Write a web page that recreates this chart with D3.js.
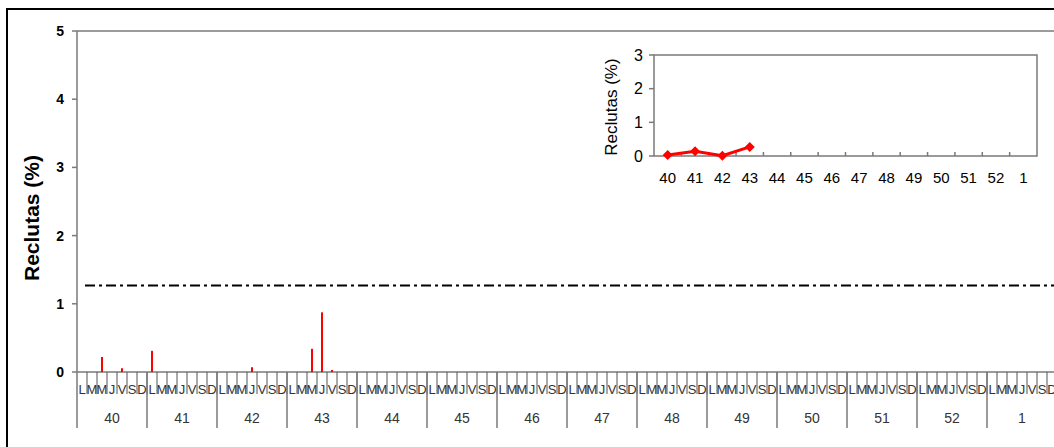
<!DOCTYPE html>
<html>
<head>
<meta charset="utf-8">
<script src="https://cdn.jsdelivr.net/npm/d3@7"></script>
<style>
  body { margin: 0; background: #fff; }
  text { font-family: "Liberation Sans", Arial, sans-serif; }
</style>
</head>
<body>
<div class="chart"></div>
<script>
const WIDTH = 1054, HEIGHT = 447;

// data
const weeks = ["40", "41", "42", "43", "44", "45", "46", "47", "48", "49", "50", "51", "52", "1"];
const dayLetters = ["L", "M", "M", "J", "V", "S", "D"];
const week40 = [0, 0, 0.22, 0, 0.055, 0, 0];
const week41 = [0.31, 0, 0, 0, 0, 0, 0];
const week42 = [0, 0, 0, 0.07, 0, 0, 0];
const week43 = [0, 0, 0.34, 0.875, 0.03, 0, 0];
const weeklyMean = [0.03, 0.14, 0.01, 0.27];
const threshold = 1.27;
const yTicks = [0, 1, 2, 3, 4, 5];
const insetTicks = [0, 1, 2, 3];

const dailyValues = [week40, week41, week42, week43];
const days = [];
weeks.forEach(function(w, wi) {
  dayLetters.forEach(function(d, di) {
    const vals = dailyValues[wi];
    days.push({ key: w + "-" + di, letter: d, week: w, value: vals ? vals[di] : null });
  });
});

const svg = d3.select(".chart").append("svg")
  .attr("width", WIDTH)
  .attr("height", HEIGHT);

// outer frame
svg.append("rect")
  .attr("x", 7).attr("y", 9)
  .attr("width", WIDTH + 10).attr("height", HEIGHT + 10)
  .attr("fill", "none").attr("stroke", "#000").attr("stroke-width", 2);

const grey = "#7a7a7a";
const x = d3.scaleBand().domain(days.map(d => d.key)).range([77, 1057]);
const xw = d3.scaleBand().domain(weeks).range([77, 1057]);
const y = d3.scaleLinear().domain([0, 5]).range([372, 31]);

// plot top border
svg.append("line")
  .attr("x1", 77).attr("x2", WIDTH).attr("y1", y(5)).attr("y2", y(5))
  .attr("stroke", grey).attr("stroke-width", 1.5);

// y axis
const yAxis = svg.append("g");
yAxis.append("line")
  .attr("x1", 77).attr("x2", 77).attr("y1", y(5)).attr("y2", 428)
  .attr("stroke", grey).attr("stroke-width", 1.5);
yAxis.selectAll(".yt").data(yTicks).enter().append("line")
  .attr("x1", 72).attr("x2", 77).attr("y1", d => y(d)).attr("y2", d => y(d))
  .attr("stroke", grey).attr("stroke-width", 1.5);
yAxis.selectAll(".yl").data(yTicks).enter().append("text")
  .attr("x", 64).attr("y", d => y(d) + 5)
  .attr("text-anchor", "end")
  .attr("font-size", 14).attr("font-weight", "bold")
  .text(d => d);
svg.append("text")
  .attr("transform", "translate(39,218) rotate(-90)")
  .attr("text-anchor", "middle")
  .attr("font-size", 21).attr("font-weight", "bold")
  .text("Reclutas (%)");

// x axis line
svg.append("line")
  .attr("x1", 77).attr("x2", WIDTH).attr("y1", y(0)).attr("y2", y(0))
  .attr("stroke", grey).attr("stroke-width", 1.5);

// day letters and ticks
svg.selectAll(".dl").data(days).enter().append("text")
  .attr("x", d => x(d.key) + x.bandwidth() / 2)
  .attr("y", y(0) + 22)
  .attr("text-anchor", "middle")
  .attr("font-size", 13).attr("fill", "#333")
  .text(d => d.letter);
svg.selectAll(".dt").data(days).enter().append("line")
  .attr("x1", d => x(d.key) + x.bandwidth()).attr("x2", d => x(d.key) + x.bandwidth())
  .attr("y1", y(0)).attr("y2", y(0) + 22)
  .attr("stroke", "#555").attr("stroke-width", 1);

// week separators and labels
svg.selectAll(".wt").data(weeks).enter().append("line")
  .attr("x1", d => xw(d) + xw.bandwidth()).attr("x2", d => xw(d) + xw.bandwidth())
  .attr("y1", y(0)).attr("y2", 428)
  .attr("stroke", grey).attr("stroke-width", 1.5);
svg.selectAll(".wl").data(weeks).enter().append("text")
  .attr("x", d => xw(d) + xw.bandwidth() / 2)
  .attr("y", 423)
  .attr("text-anchor", "middle")
  .attr("font-size", 14).attr("fill", "#333")
  .text(d => d);

// threshold
svg.append("line")
  .attr("x1", x(days[0].key) + x.bandwidth() / 2 + 3).attr("x2", WIDTH)
  .attr("y1", y(threshold)).attr("y2", y(threshold))
  .attr("stroke", "#000").attr("stroke-width", 2)
  .attr("stroke-dasharray", "10,4,3,4");

// daily bars
svg.selectAll(".bar").data(days.filter(d => d.value > 0)).enter().append("rect")
  .attr("x", d => x(d.key) + x.bandwidth() / 2 - 1)
  .attr("width", 2)
  .attr("y", d => y(d.value))
  .attr("height", d => y(0) - y(d.value))
  .attr("fill", "#ff0000");

// inset: weekly values
const ix = d3.scaleBand().domain(weeks).range([654, 1037]);
const iy = d3.scaleLinear().domain([0, 3]).range([156, 55]);
const inset = svg.append("g");
inset.append("rect")
  .attr("x", 654).attr("y", iy(3))
  .attr("width", 1037 - 654).attr("height", iy(0) - iy(3))
  .attr("fill", "#fff").attr("stroke", grey).attr("stroke-width", 1.5);
inset.selectAll(".it").data(insetTicks).enter().append("line")
  .attr("x1", 649).attr("x2", 654).attr("y1", d => iy(d)).attr("y2", d => iy(d))
  .attr("stroke", grey).attr("stroke-width", 1.5);
inset.selectAll(".il").data(insetTicks).enter().append("text")
  .attr("x", 643).attr("y", d => iy(d) + 5.5)
  .attr("text-anchor", "end").attr("font-size", 16)
  .text(d => d);
inset.selectAll(".ixt").data(weeks.slice(1)).enter().append("line")
  .attr("x1", d => ix(d)).attr("x2", d => ix(d))
  .attr("y1", iy(0)).attr("y2", iy(0) - 4)
  .attr("stroke", grey).attr("stroke-width", 1.5);
inset.selectAll(".ixl").data(weeks).enter().append("text")
  .attr("x", d => ix(d) + ix.bandwidth() / 2)
  .attr("y", 183)
  .attr("text-anchor", "middle").attr("font-size", 15)
  .text(d => d);
inset.append("text")
  .attr("transform", "translate(617,107) rotate(-90)")
  .attr("text-anchor", "middle").attr("font-size", 17)
  .text("Reclutas (%)");

const insetPts = weeklyMean.map((v, i) => ({ week: weeks[i], value: v }));
inset.append("path")
  .datum(insetPts)
  .attr("fill", "none").attr("stroke", "#ff0000").attr("stroke-width", 3)
  .attr("d", d3.line().x(d => ix(d.week) + ix.bandwidth() / 2).y(d => iy(d.value)));
inset.selectAll(".mk").data(insetPts).enter().append("path")
  .attr("transform", d => `translate(${ix(d.week) + ix.bandwidth() / 2},${iy(d.value)}) rotate(45)`)
  .attr("d", d3.symbol().type(d3.symbolSquare).size(50))
  .attr("fill", "#ff0000");
</script>
</body>
</html>
